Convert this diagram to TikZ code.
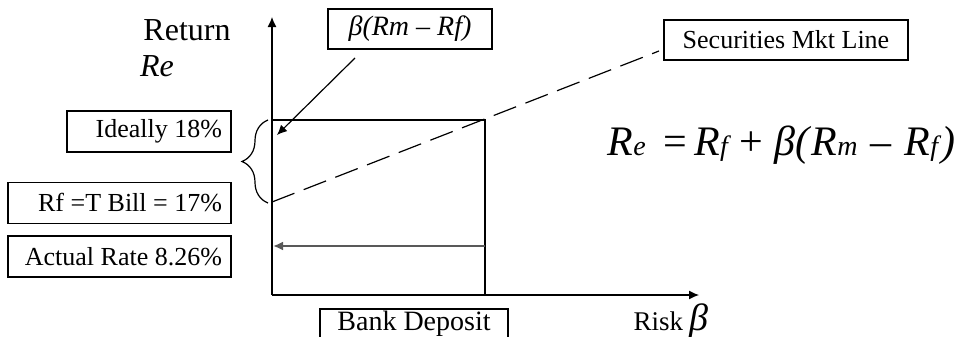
\documentclass[tikz,border=0pt]{standalone}
\usepackage{fontspec}
\setmainfont{Liberation Serif}
\usetikzlibrary{decorations.pathreplacing, arrows.meta}

\newcommand{\Rsub}[1]{\textit{R}{\fontsize{14}{14}\selectfont\textit{#1}}}

\tikzset{
  lbox/.style={draw, line width=0.6pt, inner xsep=4.5pt, inner ysep=0pt, minimum height=20.5pt, font=\fontsize{13}{15}\selectfont},
  cbox/.style={draw, line width=0.6pt, inner sep=0pt, minimum height=20pt, align=center, font=\fontsize{13}{15}\selectfont}
}

\begin{document}
\begin{tikzpicture}[x=0.5pt, y=-0.5pt, >={Latex[length=5pt, width=4.5pt]}, line width=0.6pt]
	\useasboundingbox (0,0) rectangle (959,337);
	\clip (0,0) rectangle (959,337);
	
	% axes
	\coordinate (O) at (272,295);
	\coordinate (ytop) at (272,17);
	\coordinate (xend) at (699,295);
	\draw[->] (O) -- (ytop);
	\draw[->] (O) -- (xend);
	\node[font=\fontsize{16}{18}\selectfont] (ret) at (187,30) {Return};
	\node[font=\fontsize{16}{18}\selectfont\itshape] (re) at (157,66) {Re};
	\node[anchor=base west, inner sep=0pt, font=\fontsize{13.5}{15}\selectfont] (risk) at (633,330) {Risk \fontsize{19}{19}\selectfont\textit{β}};
	
	% bank deposit region
	\coordinate (bdtl) at (272,120);
	\coordinate (bdtr) at (485,120);
	\coordinate (bdbr) at (485,295);
	\draw (bdtl) -- (bdtr) -- (bdbr);
	\coordinate (act0) at (485,246);
	\coordinate (act1) at (273,246);
	\draw[->, draw=black!65, fill=black!65, line width=1.1pt] (act0) -- (act1);
	
	% security market line
	\coordinate (rf) at (272,202);
	\coordinate (smlend) at (659,51);
	\draw[dash pattern=on 12pt off 5pt] (rf) -- (smlend);
	
	% brace
	\coordinate (br0) at (268,203);
	\coordinate (br1) at (268,120);
	\draw[decorate, decoration={brace, amplitude=13pt}] (br0) -- (br1);
	
	% boxes
	\node[lbox] (ideal) at (149,131.5) {\makebox[73pt][r]{Ideally 18\%}};
	\node[lbox] (tbill) at (119.5,203) {\makebox[102.5pt][r]{Rf =T Bill = 17\%}};
	\node[lbox] (actual) at (119.5,256.5) {\makebox[102.5pt][r]{Actual Rate 8.26\%}};
	\node[cbox, minimum width=82pt, font=\fontsize{14}{15}\selectfont\itshape] (prem) at (410,29) {β(Rm – Rf)};
	\node[cbox, minimum width=122pt] (sml) at (786,40) {Securities Mkt Line};
	\node[cbox, minimum width=94pt, minimum height=15pt, font=\fontsize{14}{15}\selectfont] (bank) at (414,324) {Bank Deposit};
	
	% pointer from premium box
	\coordinate (pm0) at (355,58);
	\coordinate (pm1) at (277,135);
	\draw[->] (pm0) -- (pm1);
	
	% CAPM
	\node[anchor=base west, inner sep=0pt, font=\fontsize{21}{24}\selectfont] (capm) at (607,155) {\Rsub{e}\hspace{9pt}=\hspace{3.5pt}\Rsub{f}\hspace{4pt}+\hspace{6pt}\textit{β(}\Rsub{m}\hspace{6.5pt}–\hspace{6.5pt}\Rsub{f}\textit{)}};
\end{tikzpicture}
\end{document}
